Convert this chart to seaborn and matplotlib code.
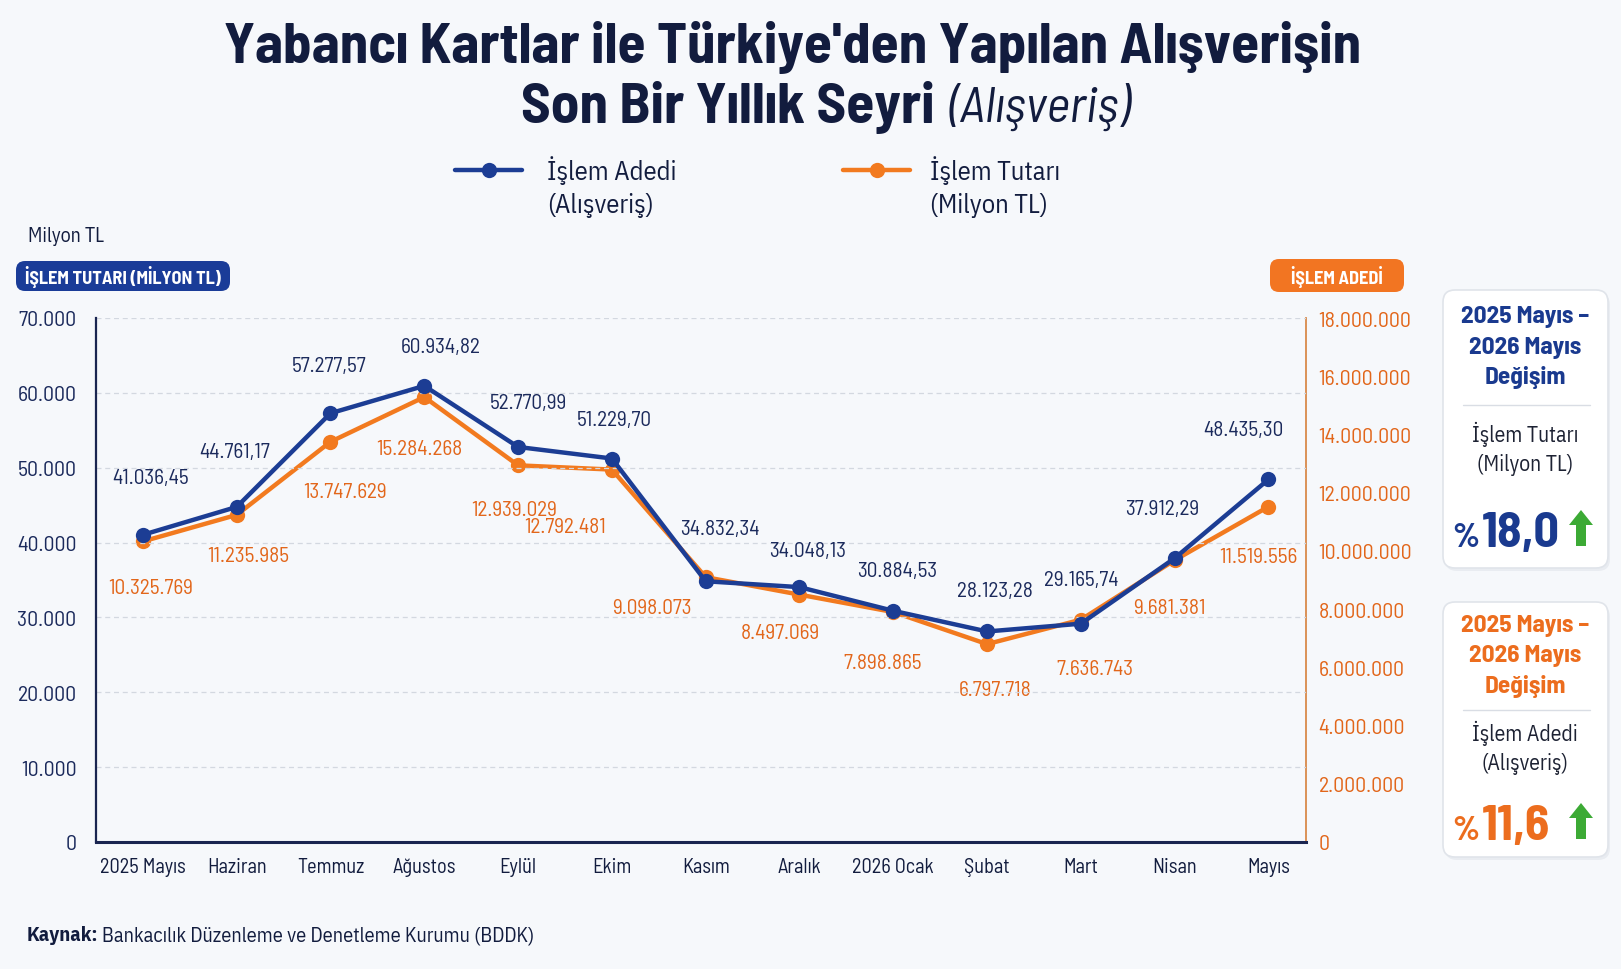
import numpy as np
import pandas as pd
import seaborn as sns
import matplotlib
matplotlib.use("Agg")
import matplotlib.pyplot as plt
from matplotlib.patches import FancyBboxPatch, Polygon
from matplotlib.lines import Line2D
from matplotlib.transforms import IdentityTransform
from matplotlib.ticker import FuncFormatter

# ---------------- data ----------------
months = ["2025 Mayıs", "Haziran", "Temmuz", "Ağustos", "Eylül", "Ekim", "Kasım",
          "Aralık", "2026 Ocak", "Şubat", "Mart", "Nisan", "Mayıs"]
tutar_milyon_tl = [41036.45, 44761.17, 57277.57, 60934.82, 52770.99, 51229.70, 34832.34,
                   34048.13, 30884.53, 28123.28, 29165.74, 37912.29, 48435.30]
islem_adedi = [10325769, 11235985, 13747629, 15284268, 12939029, 12792481, 9098073,
               8497069, 7898865, 6797718, 7636743, 9681381, 11519556]
left_ticks = [0, 10000, 20000, 30000, 40000, 50000, 60000, 70000]
right_ticks = [0, 2e6, 4e6, 6e6, 8e6, 10e6, 12e6, 14e6, 16e6, 18e6]
change_tutar = "18,0"
change_adet = "11,6"

# label offsets in pixels (dx, dy) relative to each point
blue_off = [(8, 57), (-2, 55), (-1, 48), (16, 39), (10, 44), (2, 39), (14, 53),
            (8, 37), (4, 40), (8, 41), (0, 44), (-12, 50), (-25, 50)]
orange_off = [(8, -46), (12, -41), (15, -50), (-5, -51), (-4, -44), (-47, -57), (-54, -30),
              (-19, -38), (-11, -50), (8, -45), (14, -49), (-5, -47), (-10, -50)]

W, H = 1621, 970
BG = "#f6f8fb"
NAVY = "#121c3e"
BLUE = "#1c3d94"
BLUE_TXT = "#1b2a5c"
ORANGE = "#f27a1f"
ORANGE_TXT = "#e2661a"
GREEN = "#3caa35"

MAIN = ["Barlow Semi Condensed", "DejaVu Sans"]
HUM = ["IBM Plex Sans Condensed", "DejaVu Sans"]

sns.set_style("white")
plt.rcParams["font.family"] = MAIN

fig = plt.figure(figsize=(W / 100, H / 100), dpi=100, facecolor=BG)
renderer = fig.canvas.get_renderer()


def fx(x):
    return x / W


def fy(y):
    return 1 - y / H


def fit(s, target, **kw):
    t = fig.text(0, 0, s, fontsize=20, **kw)
    w = t.get_window_extent(renderer).width
    t.remove()
    return 20 * target / w


def T(x, y, s, **kw):
    return fig.text(fx(x), fy(y), s, **kw)


def rbox(x0, y0, x1, y1, fc, ec="none", lw=0, r=8, z=1):
    p = FancyBboxPatch((x0, H - y1), x1 - x0, y1 - y0,
                       boxstyle=f"round,pad=0,rounding_size={r}",
                       transform=IdentityTransform(), fc=fc, ec=ec, lw=lw, zorder=z)
    fig.add_artist(p)
    return p


def tr_fmt(v):
    s = f"{v:,.2f}"
    return s.replace(",", "X").replace(".", ",").replace("X", ".")


def int_fmt(v, pos=None):
    return f"{int(round(v)):,}".replace(",", ".")


# font sizes fitted to the reference widths
fs_tick = fit("70.000", 58)
fs_xtick = fit("2025 Mayıs", 86)
fs_lab = fit("41.036,45", 77)

# ---------------- axes ----------------
ax = fig.add_axes([fx(96), fy(843), (1306 - 96) / W, (843 - 319) / H])
ax2 = ax.twinx()
ax.set_facecolor("none")
ax2.set_facecolor("none")
ax.set_zorder(ax2.get_zorder() + 1)

df = pd.DataFrame({"ay": months, "tutar": tutar_milyon_tl, "adet": islem_adedi})

sns.lineplot(data=df, x="ay", y="adet", ax=ax2, color=ORANGE, lw=3.2, marker="o",
             markersize=11, markeredgewidth=0, sort=False)
sns.lineplot(data=df, x="ay", y="tutar", ax=ax, color=BLUE, lw=3.2, marker="o",
             markersize=11, markeredgewidth=0, sort=False)

ax.set_xlim(-0.5, 12.4)
ax.set_ylim(0, 70000)
ax2.set_ylim(0, 18e6)
ax.set_yticks(left_ticks)
ax2.set_yticks(right_ticks)
ax.yaxis.set_major_formatter(FuncFormatter(int_fmt))
ax2.yaxis.set_major_formatter(FuncFormatter(int_fmt))
for a in (ax, ax2):
    a.set_xlabel("")
    a.set_ylabel("")

ax.yaxis.grid(True, ls=(0, (4, 3)), color="#d3d8e0", lw=0.9)
ax.xaxis.grid(False)
ax2.grid(False)

ax.tick_params(axis="y", length=0, pad=14, labelsize=fs_tick, labelcolor=BLUE_TXT)
ax.tick_params(axis="x", length=0, pad=11, labelsize=fs_xtick, labelcolor=NAVY)
ax2.tick_params(axis="y", length=0, pad=9, labelsize=fs_tick, labelcolor=ORANGE_TXT)

for s in ["top", "right"]:
    ax.spines[s].set_visible(False)
ax.spines["left"].set_color("#1a2550")
ax.spines["left"].set_linewidth(1.6)
ax.spines["bottom"].set_color("#1a2550")
ax.spines["bottom"].set_linewidth(2.2)
for s in ["top", "left", "bottom"]:
    ax2.spines[s].set_visible(False)
ax2.spines["right"].set_color("#d98a4a")
ax2.spines["right"].set_linewidth(1.3)

# data labels
for i, (v, off) in enumerate(zip(tutar_milyon_tl, blue_off)):
    ax.annotate(tr_fmt(v), (i, v), xytext=off, textcoords="offset pixels",
                ha="center", va="center", fontsize=fs_lab, color=BLUE_TXT, zorder=5)
for i, (v, off) in enumerate(zip(islem_adedi, orange_off)):
    ax2.annotate(int_fmt(v), (i, v), xytext=off, textcoords="offset pixels",
                 ha="center", va="center", fontsize=fs_lab, color=ORANGE_TXT, zorder=5)

# ---------------- title ----------------
fs_t = fit("Yabancı Kartlar ile Türkiye'den Yapılan Alışverişin", 1136, fontweight="bold")
T(793, 47, "Yabancı Kartlar ile Türkiye'den Yapılan Alışverişin", ha="center",
  va="center", fontsize=fs_t, fontweight="bold", color=NAVY)
t1 = T(0, 108, "Son Bir Yıllık Seyri", ha="left", va="center", fontsize=fs_t,
       fontweight="bold", color=NAVY)
fs_it = fit("(Alışveriş)", 182, fontstyle="italic")
t2 = T(0, 108, "(Alışveriş)", ha="left", va="center", fontsize=fs_it,
       fontstyle="italic", color=NAVY)
w1 = t1.get_window_extent(renderer).width
w2 = t2.get_window_extent(renderer).width
gap = 14
start = 826 - (w1 + gap + w2) / 2
t1.set_x(fx(start))
t2.set_x(fx(start + w1 + gap))

# ---------------- legend ----------------
for x0, x1, col in [(455, 522, BLUE), (843, 910, ORANGE)]:
    fig.add_artist(Line2D([fx(x0), fx(x1)], [fy(171), fy(171)], color=col, lw=3.2,
                          transform=fig.transFigure))
    fig.add_artist(Line2D([fx((x0 + x1) / 2)], [fy(171)], color=col, marker="o",
                          markersize=11, markeredgewidth=0, transform=fig.transFigure))
fs_leg = fit("İşlem Adedi", 130, family=HUM)
T(547, 171, "İşlem Adedi", ha="left", va="center", fontsize=fs_leg, color=NAVY, family=HUM)
T(547, 205, "(Alışveriş)", ha="left", va="center", fontsize=fs_leg, color=NAVY, family=HUM)
T(930, 171, "İşlem Tutarı", ha="left", va="center", fontsize=fs_leg, color=NAVY, family=HUM)
T(930, 205, "(Milyon TL)", ha="left", va="center", fontsize=fs_leg, color=NAVY, family=HUM)

# ---------------- axis badges ----------------
T(28, 236, "Milyon TL", ha="left", va="center", fontsize=fit("Milyon TL", 76, family=HUM),
  color=NAVY, family=HUM)
rbox(16, 262, 230, 292, fc="#1a3c98", r=9)
fs_badge = fit("İŞLEM TUTARI (MİLYON TL)", 196, fontweight="bold")
T(123, 277, "İŞLEM TUTARI (MİLYON TL)", ha="center", va="center", fontsize=fs_badge,
  fontweight="bold", color="white")
rbox(1270, 260, 1404, 293, fc="#f27522", r=9)
T(1337, 276.5, "İŞLEM ADEDİ", ha="center", va="center", fontsize=fs_badge,
  fontweight="bold", color="white")

# ---------------- side boxes ----------------
fs_bt = fit("2025 Mayıs –", 128, fontweight="bold")
fs_bs = fit("İşlem Tutarı", 107, family=HUM)
fs_pct = fit("18,0", 78, fontweight="bold")
fs_pc = fs_pct * 0.68


def up_arrow(cx, top, bottom, hw=12, sw=5, hh=15):
    pts = [(cx, top), (cx - hw, top + hh), (cx - sw, top + hh), (cx - sw, bottom),
           (cx + sw, bottom), (cx + sw, top + hh), (cx + hw, top + hh)]
    pts = [(fx(x), fy(y)) for x, y in pts]
    fig.add_artist(Polygon(pts, closed=True, fc=GREEN, ec="none",
                           transform=fig.transFigure))


def side_box(y0, y1, title_col, title_ys, div_y, sub, sub_ys, pct, pct_col, base_y):
    rbox(1445, y0 + 3, 1610, y1 + 3, fc="#e9ecf1", r=12)
    rbox(1443, y0, 1608, y1, fc="white", ec="#e0e4ea", lw=1.2, r=12)
    for s, yy in zip(["2025 Mayıs –", "2026 Mayıs", "Değişim"], title_ys):
        T(1525, yy, s, ha="center", va="center", fontsize=fs_bt, fontweight="bold",
          color=title_col)
    fig.add_artist(Line2D([fx(1463), fx(1590)], [fy(div_y), fy(div_y)],
                          color="#d9dde4", lw=1, transform=fig.transFigure))
    for s, yy in zip(sub, sub_ys):
        T(1525, yy, s, ha="center", va="center", fontsize=fs_bs, color="#1d2233",
          family=HUM)
    T(1479, base_y, "%", ha="right", va="baseline", fontsize=fs_pc,
      fontweight="bold", color=pct_col)
    T(1482, base_y, pct, ha="left", va="baseline", fontsize=fs_pct, fontweight="bold",
      color=pct_col)
    up_arrow(1581, base_y - 36, base_y)


side_box(291, 569, "#1a3a8f", [317, 348, 378], 406, ["İşlem Tutarı", "(Milyon TL)"],
         [434, 465], change_tutar, "#1a3a8f", 547)
side_box(603, 858, "#ec6d1e", [626, 656, 686], 711, ["İşlem Adedi", "(Alışveriş)"],
         [733, 764], change_adet, "#ec6d1e", 840)

# ---------------- source ----------------
fs_src = fit("Kaynak: Bankacılık Düzenleme ve Denetleme Kurumu (BDDK)", 505, family=HUM)
s1 = T(27, 936, "Kaynak:", ha="left", va="center", fontsize=fs_src, fontweight="bold",
       color=NAVY, family=HUM)
ws = s1.get_window_extent(renderer).width
T(27 + ws + 4, 936, "Bankacılık Düzenleme ve Denetleme Kurumu (BDDK)", ha="left",
  va="center", fontsize=fs_src, color=NAVY, family=HUM)

fig.savefig("out.png", dpi=100, facecolor=BG)
